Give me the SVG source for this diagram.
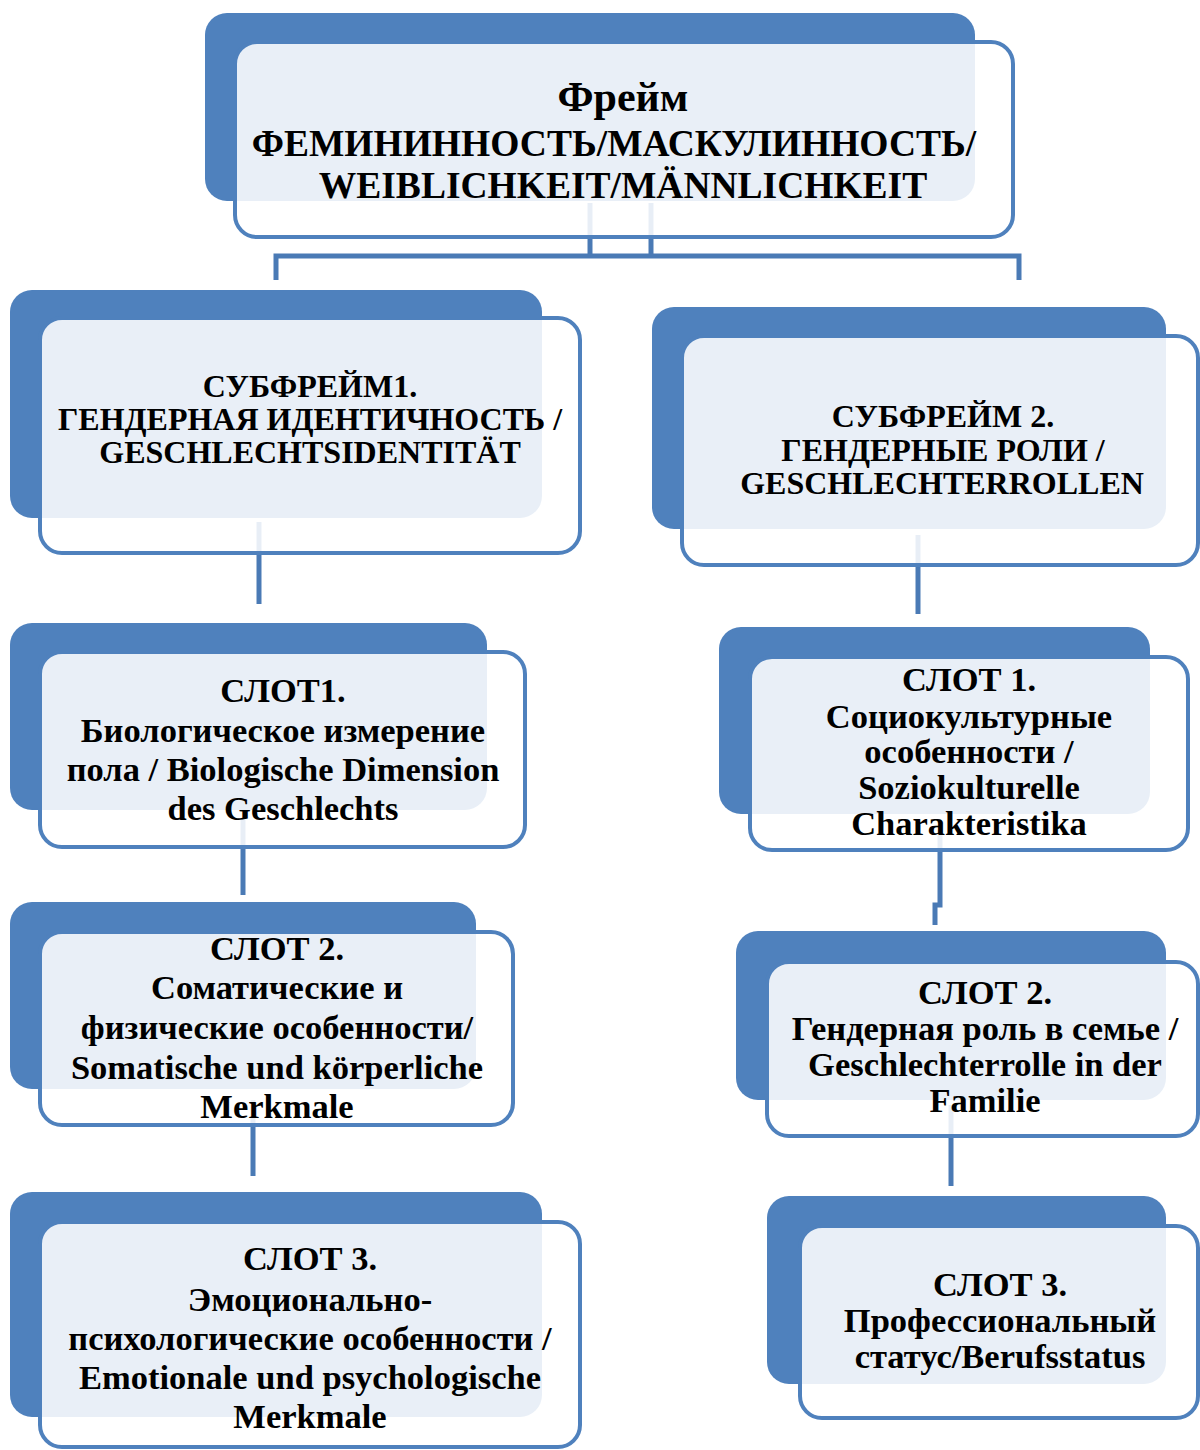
<svg xmlns="http://www.w3.org/2000/svg" width="1200" height="1450" viewBox="0 0 1200 1450">
<style>
.back{fill:#4f81bd;}
.front{fill:#ffffff;fill-opacity:0.875;stroke:#4f81bd;stroke-width:4;}
.conn{fill:none;stroke:#4a7ab5;stroke-width:5;}
text{font-family:"Liberation Serif","Times New Roman",serif;font-weight:bold;fill:#000;text-anchor:middle;}
.t36{font-size:37.5px;}
.t42{font-size:42px;}
.t30{font-size:32px;}
.t31{font-size:34.5px;}
</style>
<rect width="1200" height="1450" fill="#ffffff"/>
<g id="connectors">
<path class="conn" d="M590,203 V256"/>
<path class="conn" d="M651,203 V256"/>
<path class="conn" d="M276,280 V256 H1019 V280"/>
<path class="conn" d="M259,522 V604"/>
<path class="conn" d="M918,535 V614"/>
<path class="conn" d="M243,820 V895"/>
<path class="conn" d="M940,830 V905 H935 V925"/>
<path class="conn" d="M253,1100 V1176"/>
<path class="conn" d="M951,1105 V1186"/>
</g>
<g id="frame">
<rect class="back" x="205" y="13" width="770" height="188" rx="22"/>
<rect class="front" x="235" y="42" width="778" height="195" rx="22"/>
<text class="t42" x="623" y="111">Фрейм</text>
<text class="t36" x="614" y="156">ФЕМИНИННОСТЬ/МАСКУЛИННОСТЬ/</text>
<text class="t36" x="623" y="198">WEIBLICHKEIT/MÄNNLICHKEIT</text>
</g>
<g id="subframe1">
<rect class="back" x="10" y="290" width="532" height="228" rx="22"/>
<rect class="front" x="40" y="318" width="540" height="235" rx="22"/>
<text class="t30" x="310" y="397">СУБФРЕЙМ1.</text>
<text class="t30" x="310" y="430">ГЕНДЕРНАЯ ИДЕНТИЧНОСТЬ /</text>
<text class="t30" x="310" y="463">GESCHLECHTSIDENTITÄT</text>
</g>
<g id="subframe2">
<rect class="back" x="652" y="307" width="514" height="222" rx="22"/>
<rect class="front" x="682" y="336" width="516" height="229" rx="22"/>
<text class="t30" x="943" y="427">СУБФРЕЙМ 2.</text>
<text class="t30" x="943" y="461">ГЕНДЕРНЫЕ РОЛИ /</text>
<text class="t30" x="942" y="494">GESCHLECHTERROLLEN</text>
</g>
<g id="slot1-left">
<rect class="back" x="10" y="623" width="477" height="187" rx="22"/>
<rect class="front" x="40" y="652" width="485" height="195" rx="22"/>
<text class="t31" x="283" y="702">СЛОТ1.</text>
<text class="t31" x="283" y="742">Биологическое измерение</text>
<text class="t31" x="283" y="781">пола / Biologische Dimension</text>
<text class="t31" x="283" y="820">des Geschlechts</text>
</g>
<g id="slot1-right">
<rect class="back" x="719" y="627" width="431" height="187" rx="22"/>
<rect class="front" x="750" y="657" width="438" height="193" rx="22"/>
<text class="t31" x="969" y="691">СЛОТ 1.</text>
<text class="t31" x="969" y="728">Социокультурные</text>
<text class="t31" x="969" y="763">особенности /</text>
<text class="t31" x="969" y="799">Soziokulturelle</text>
<text class="t31" x="969" y="835">Charakteristika</text>
</g>
<g id="slot2-left">
<rect class="back" x="10" y="902" width="466" height="187" rx="22"/>
<rect class="front" x="40" y="932" width="473" height="193" rx="22"/>
<text class="t31" x="277" y="960">СЛОТ 2.</text>
<text class="t31" x="277" y="999">Соматические и</text>
<text class="t31" x="277" y="1039">физические особенности/</text>
<text class="t31" x="277" y="1079">Somatische und körperliche</text>
<text class="t31" x="277" y="1118">Merkmale</text>
</g>
<g id="slot2-right">
<rect class="back" x="736" y="931" width="430" height="169" rx="22"/>
<rect class="front" x="767" y="962" width="431" height="174" rx="22"/>
<text class="t31" x="985" y="1004">СЛОТ 2.</text>
<text class="t31" x="985" y="1040">Гендерная роль в семье /</text>
<text class="t31" x="985" y="1076">Geschlechterrolle in der</text>
<text class="t31" x="985" y="1112">Familie</text>
</g>
<g id="slot3-left">
<rect class="back" x="10" y="1192" width="532" height="225" rx="22"/>
<rect class="front" x="40" y="1222" width="540" height="225" rx="22"/>
<text class="t31" x="310" y="1270">СЛОТ 3.</text>
<text class="t31" x="310" y="1311">Эмоционально-</text>
<text class="t31" x="310" y="1350">психологические особенности /</text>
<text class="t31" x="310" y="1389">Emotionale und psychologische</text>
<text class="t31" x="310" y="1428">Merkmale</text>
</g>
<g id="slot3-right">
<rect class="back" x="767" y="1196" width="399" height="188" rx="22"/>
<rect class="front" x="800" y="1226" width="398" height="192" rx="22"/>
<text class="t31" x="1000" y="1296">СЛОТ 3.</text>
<text class="t31" x="1000" y="1332">Профессиональный</text>
<text class="t31" x="1000" y="1368">статус/Berufsstatus</text>
</g>
</svg>
